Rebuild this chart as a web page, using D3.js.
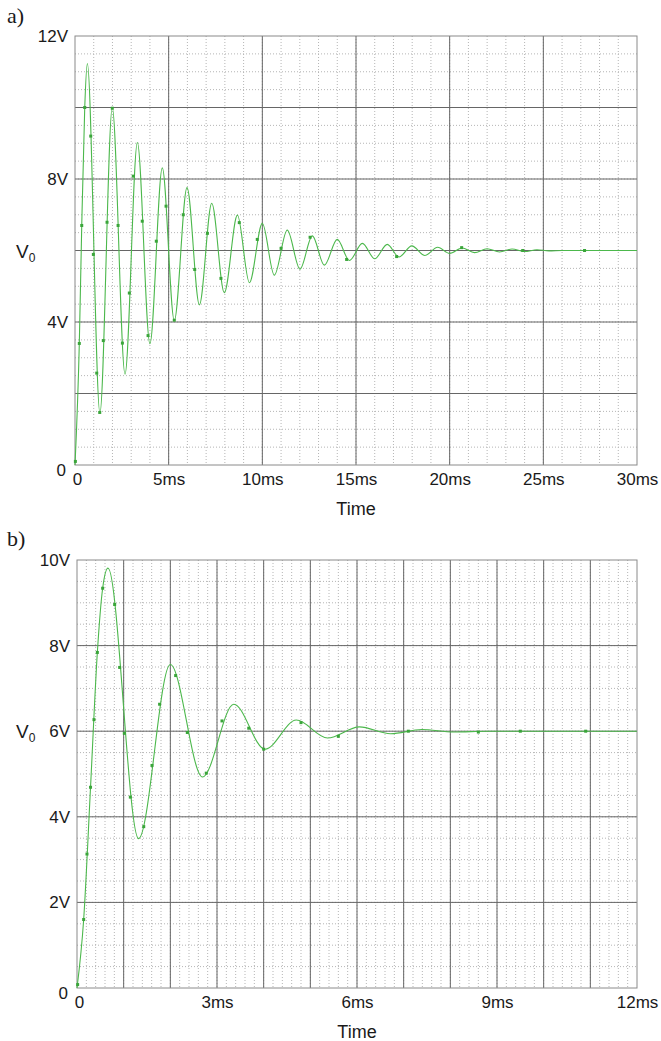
<!DOCTYPE html>
<html>
<head>
<meta charset="utf-8">
<script src="https://cdn.jsdelivr.net/npm/d3@7"></script>
<style>
  body { margin: 0; background: #fff; }
  svg text { font-family: "Liberation Sans", Arial, sans-serif; fill: #1a1a1a; }
  svg text.panel-name { font-family: "Liberation Serif", "Times New Roman", serif; }
</style>
</head>
<body>
<svg id="chart" width="661" height="1041"></svg>
<script>
// panel a: peaks / troughs (ms, V)
const aTime = [0, 0.23, 0.36, 0.52, 0.66, 1.33, 1.99, 2.67, 3.33, 4.0, 4.66, 5.30, 5.98, 6.64, 7.30, 7.97,
  8.67, 9.31, 10.0, 10.64, 11.33, 12.01, 12.67, 13.31, 14.0, 14.65, 15.34, 16.0, 16.67, 17.3, 17.98,
  18.67, 19.36, 20.0, 20.66, 21.33, 22.0, 22.66, 23.33, 24.0, 24.66, 25.3, 26.0, 30.0]
const aVolt = [0, 3.4, 6.7, 10.0, 11.23, 1.45, 10.0, 2.54, 9.02, 3.39, 8.31, 4.04, 7.76, 4.48, 7.32, 4.82,
  6.99, 5.10, 6.76, 5.31, 6.57, 5.48, 6.41, 5.59, 6.31, 5.72, 6.20, 5.77, 6.17, 5.82, 6.13,
  5.86, 6.09, 5.92, 6.07, 5.94, 6.05, 5.96, 6.04, 5.97, 6.02, 5.99, 6.0, 6.0]
const aMarkT = [0.02, 0.23, 0.36, 0.52, 0.84, 0.98, 1.16, 1.32, 1.51, 1.71, 1.99, 2.30, 2.53, 2.90, 3.11,
  3.59, 3.90, 4.34, 4.86, 5.30, 5.78, 6.39, 7.07, 7.79, 8.77, 9.73, 11.0, 12.55, 14.5, 17.17, 20.64, 23.9, 27.2]
const aMarkV = [0.1, 3.4, 6.7, 10.0, 9.2, 5.89, 2.57, 1.47, 3.48, 6.79, 9.98, 6.7, 3.41, 4.81, 8.08,
  6.82, 3.62, 6.26, 7.24, 4.05, 7.0, 5.47, 6.48, 5.22, 6.78, 6.31, 6.06, 6.37, 5.75, 5.83, 6.08, 6.0, 6.0]
const aXTicks = ['0', '5ms', '10ms', '15ms', '20ms', '25ms', '30ms']
const aYTicks = ['0', '4V', '8V', '12V']

// panel b
const bTime = [0, 0.143, 0.29, 0.436, 0.55, 0.664, 1.32, 2.0, 2.69, 3.36, 4.03, 4.7, 5.37, 6.05, 6.72, 7.39, 8.07, 8.8, 12]
const bVolt = [0, 1.6, 4.69, 7.84, 9.34, 9.81, 3.49, 7.56, 4.93, 6.63, 5.58, 6.26, 5.84, 6.1, 5.94, 6.04, 5.98, 6.0, 6.0]
const bMarkT = [0.014, 0.143, 0.214, 0.29, 0.364, 0.436, 0.55, 0.807, 0.914, 1.014, 1.143, 1.43, 1.607, 1.77,
  2.114, 2.364, 2.77, 3.107, 3.68, 4.0, 4.8, 5.6, 7.1, 8.6, 9.5, 10.9]
const bMarkV = [0.08, 1.6, 3.13, 4.69, 6.27, 7.84, 9.34, 8.96, 7.49, 5.95, 4.46, 3.77, 5.2, 6.63,
  7.3, 5.97, 5.02, 6.24, 6.07, 5.58, 6.2, 5.88, 6.0, 5.98, 6.0, 6.0]
const bXTicks = ['0', '3ms', '6ms', '9ms', '12ms']
const bYTicks = ['0', '2V', '4V', '6V', '8V', '10V']

const svg = d3.select('#chart')
const green = '#4cb84c'

function panel (o) {
  let x = d3.scaleLinear().domain([0, o.xMax]).range([o.left, o.right])
  let y = d3.scaleLinear().domain([0, o.yMax]).range([o.bottom, o.top])
  let g = svg.append('g')

  // minor grid
  g.append('g').selectAll('line')
      .data(d3.range(o.xMinor, o.xMax, o.xMinor))
    .enter().append('line')
      .attr('x1', d => x(d)).attr('x2', d => x(d))
      .attr('y1', o.top).attr('y2', o.bottom)
      .attr('stroke', '#b5b5b5').attr('stroke-dasharray', '1,2')
  g.append('g').selectAll('line')
      .data(d3.range(o.yMinor, o.yMax, o.yMinor))
    .enter().append('line')
      .attr('y1', d => y(d)).attr('y2', d => y(d))
      .attr('x1', o.left).attr('x2', o.right)
      .attr('stroke', '#b5b5b5').attr('stroke-dasharray', '1,2')

  // major grid
  g.append('g').selectAll('line')
      .data(d3.range(o.xMajor, o.xMax - 1e-9, o.xMajor))
    .enter().append('line')
      .attr('x1', d => x(d)).attr('x2', d => x(d))
      .attr('y1', o.top).attr('y2', o.bottom)
      .attr('stroke', '#666')
  g.append('g').selectAll('line')
      .data(d3.range(o.yMajor, o.yMax - 1e-9, o.yMajor))
    .enter().append('line')
      .attr('y1', d => y(d)).attr('y2', d => y(d))
      .attr('x1', o.left).attr('x2', o.right)
      .attr('stroke', '#666')

  g.append('rect')
      .attr('x', o.left).attr('y', o.top)
      .attr('width', o.right - o.left).attr('height', o.bottom - o.top)
      .attr('fill', 'none').attr('stroke', '#8a8a8a')

  // axes (labels only)
  let xAxis = d3.axisBottom(x)
      .tickValues(d3.range(0, o.xMax + 1e-9, o.xMax / (o.xTicks.length - 1)))
      .tickFormat((d, i) => o.xTicks[i]).tickSize(0).tickPadding(8)
  let xg = g.append('g').attr('transform', 'translate(0,' + o.bottom + ')').call(xAxis)
  xg.select('.domain').remove()
  xg.selectAll('text').attr('font-size', 17).attr('fill', '#1a1a1a')
  xg.selectAll('.tick').filter((d, i) => i === 0).select('text').attr('dx', 2)

  let yAxis = d3.axisLeft(y)
      .tickValues(d3.range(0, o.yMax + 1e-9, o.yMax / (o.yTicks.length - 1)))
      .tickFormat((d, i) => o.yTicks[i]).tickSize(0).tickPadding(7)
  let yg = g.append('g').attr('transform', 'translate(' + o.left + ',0)').call(yAxis)
  yg.select('.domain').remove()
  yg.selectAll('text').attr('font-size', 17).attr('fill', '#1a1a1a')
  yg.selectAll('.tick').filter((d, i) => i === 0).select('text').attr('dx', -2).attr('dy', '0.6em')

  // curve
  let line = d3.line()
      .x((d, i) => x(o.t[i]))
      .y(d => y(d))
      .curve(d3.curveMonotoneX)
  g.append('path')
      .attr('d', line(o.v))
      .attr('fill', 'none').attr('stroke', green).attr('stroke-width', 1.1)

  g.append('g').selectAll('rect')
      .data(o.mv)
    .enter().append('rect')
      .attr('x', (d, i) => x(o.mt[i]) - 1.5)
      .attr('y', d => y(d) - 1.5)
      .attr('width', 3).attr('height', 3)
      .attr('fill', '#3aa53a')

  // labels
  g.append('text')
      .attr('x', (o.left + o.right) / 2).attr('y', o.bottom + 50)
      .attr('text-anchor', 'middle').attr('font-size', 18)
      .text('Time')
  let vl = g.append('text')
      .attr('x', 16).attr('y', y(6) + 7)
      .attr('font-size', 19)
  vl.append('tspan').text('V')
  vl.append('tspan').attr('font-size', 12).attr('dy', 4).text('0')
  g.append('text')
      .attr('class', 'panel-name')
      .attr('x', 7).attr('y', o.top + o.labelDy)
      .attr('font-size', 22)
      .text(o.name)
}

panel({
  name: 'a)', labelDy: -13,
  left: 75, right: 637, top: 36, bottom: 465,
  xMax: 30, yMax: 12, xMajor: 5, xMinor: 1, yMajor: 2, yMinor: 0.5,
  xTicks: aXTicks, yTicks: aYTicks,
  t: aTime, v: aVolt, mt: aMarkT, mv: aMarkV
})

panel({
  name: 'b)', labelDy: -14,
  left: 77, right: 637, top: 560, bottom: 988,
  xMax: 12, yMax: 10, xMajor: 1, xMinor: 0.2, yMajor: 2, yMinor: 0.5,
  xTicks: bXTicks, yTicks: bYTicks,
  t: bTime, v: bVolt, mt: bMarkT, mv: bMarkV
})
</script>
</body>
</html>
